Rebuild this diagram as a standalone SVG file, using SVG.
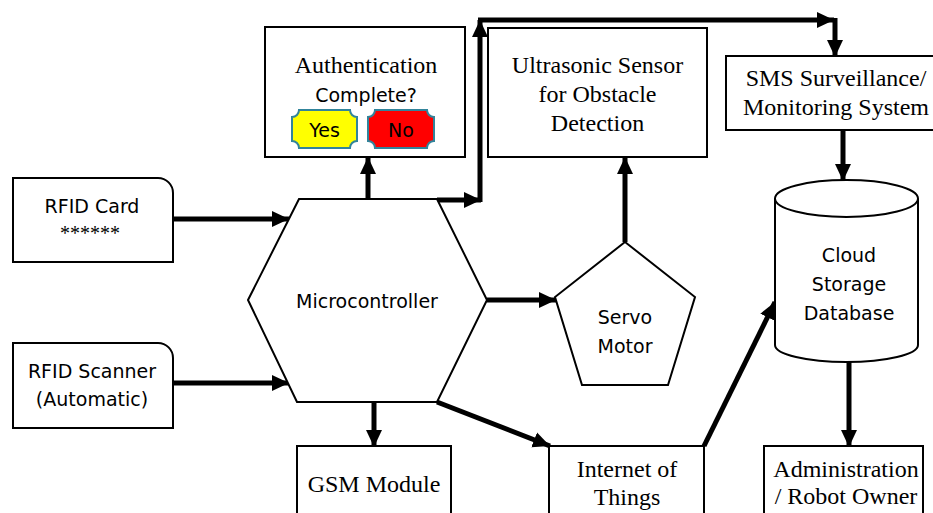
<svg xmlns="http://www.w3.org/2000/svg" width="933" height="513" viewBox="0 0 933 513">
  <defs>
    <marker id="arrow" markerUnits="userSpaceOnUse" markerWidth="18" markerHeight="18" viewBox="0 0 18 18" refX="17" refY="9" orient="auto">
      <path d="M0,1 L17,9 L0,17 Z" fill="#000"/>
    </marker>
    <style>
      .box { fill: #fff; stroke: #000; stroke-width: 2; }
      .serif { font-family: "Liberation Serif", "Times New Roman", serif; font-size: 24px; fill: #000; text-anchor: middle; }
      .sans { font-family: "DejaVu Sans", "Liberation Sans", sans-serif; font-size: 19px; fill: #000; text-anchor: middle; }
      .wire { fill: none; stroke: #000; stroke-width: 5; marker-end: url(#arrow); }
      .badge { stroke: #31849B; stroke-width: 2; }
    </style>
  </defs>
  <rect width="933" height="513" fill="#fff"/>

  <!-- connectors -->
  <g id="connectors">
    <line class="wire" x1="173" y1="219" x2="289" y2="219"/>
    <line class="wire" x1="173" y1="383" x2="289" y2="383"/>
    <line class="wire" x1="368" y1="199" x2="368" y2="157"/>
    <line class="wire" x1="437" y1="200" x2="481" y2="200"/>
    <line class="wire" x1="480" y1="202" x2="480" y2="20"/>
    <line class="wire" x1="478" y1="20" x2="834" y2="20"/>
    <line class="wire" x1="835" y1="18" x2="835" y2="57"/>
    <line class="wire" x1="487" y1="300" x2="556" y2="300"/>
    <line class="wire" x1="625" y1="242" x2="625" y2="157"/>
    <line class="wire" x1="374" y1="403" x2="374" y2="447"/>
    <line class="wire" x1="437" y1="402" x2="550" y2="446"/>
    <line class="wire" x1="704" y1="446" x2="775" y2="302"/>
    <line class="wire" x1="843" y1="130" x2="843" y2="181"/>
    <line class="wire" x1="849" y1="360" x2="849" y2="447"/>
  </g>

  <!-- RFID card reader input -->
  <g id="rfid-card">
    <path class="box" d="M13,178 H158 A15,15 0 0 1 173,193 V262 H13 Z"/>
    <text class="sans" x="92" y="213">RFID Card</text>
    <text class="serif" x="90" y="240" style="font-size:20px">******</text>
  </g>

  <g id="rfid-scanner">
    <path class="box" d="M13,343 H158 A15,15 0 0 1 173,358 V428 H13 Z"/>
    <text class="sans" x="92" y="378">RFID Scanner</text>
    <text class="sans" x="92" y="406">(Automatic)</text>
  </g>

  <g id="microcontroller">
    <polygon class="box" points="248,300 299,199 437,199 487,300 437,402 297,402"/>
    <text class="sans" x="367" y="308">Microcontroller</text>
  </g>

  <g id="authentication">
    <rect class="box" x="265" y="27" width="200" height="130"/>
    <text class="serif" x="366" y="73">Authentication</text>
    <text class="sans" x="366" y="102">Complete?</text>
    <path class="badge" fill="#FFFF00" d="M299,110 H350 A7,7 0 0 0 357,117 V141 A7,7 0 0 0 350,148 H299 A7,7 0 0 0 292,141 V117 A7,7 0 0 0 299,110 Z"/>
    <text class="sans" x="324.5" y="137">Yes</text>
    <path class="badge" fill="#FF0000" d="M375,110 H427 A7,7 0 0 0 434,117 V141 A7,7 0 0 0 427,148 H375 A7,7 0 0 0 368,141 V117 A7,7 0 0 0 375,110 Z"/>
    <text class="sans" x="401" y="137">No</text>
  </g>

  <g id="ultrasonic">
    <rect class="box" x="488" y="28" width="219" height="129"/>
    <text class="serif" x="597.5" y="73">Ultrasonic Sensor</text>
    <text class="serif" x="597.5" y="102">for Obstacle</text>
    <text class="serif" x="597.5" y="131">Detection</text>
  </g>

  <g id="sms">
    <rect class="box" x="726" y="56" width="210" height="74"/>
    <text class="serif" x="836" y="86">SMS Surveillance/</text>
    <text class="serif" x="836" y="115">Monitoring System</text>
  </g>

  <g id="servo">
    <polygon class="box" points="625,242 695,297 668,385 582,385 555,297"/>
    <text class="sans" x="625" y="324">Servo</text>
    <text class="sans" x="625" y="353">Motor</text>
  </g>

  <g id="cloud">
    <path class="box" d="M775,198.5 V345 A71.5,17 0 0 0 918,345 V198.5"/>
    <ellipse class="box" cx="846.5" cy="198.5" rx="71.5" ry="18.5"/>
    <text class="sans" x="849" y="262">Cloud</text>
    <text class="sans" x="849" y="291">Storage</text>
    <text class="sans" x="849" y="320">Database</text>
  </g>

  <g id="gsm">
    <rect class="box" x="297" y="446" width="154" height="80"/>
    <text class="serif" x="374" y="492">GSM Module</text>
  </g>

  <g id="iot">
    <rect class="box" x="549" y="446" width="155" height="80"/>
    <text class="serif" x="627" y="477">Internet of</text>
    <text class="serif" x="627" y="505">Things</text>
  </g>

  <g id="admin">
    <rect class="box" x="764" y="446" width="159" height="80"/>
    <text class="serif" x="846" y="477">Administration</text>
    <text class="serif" x="846" y="504">/ Robot Owner</text>
  </g>
</svg>
